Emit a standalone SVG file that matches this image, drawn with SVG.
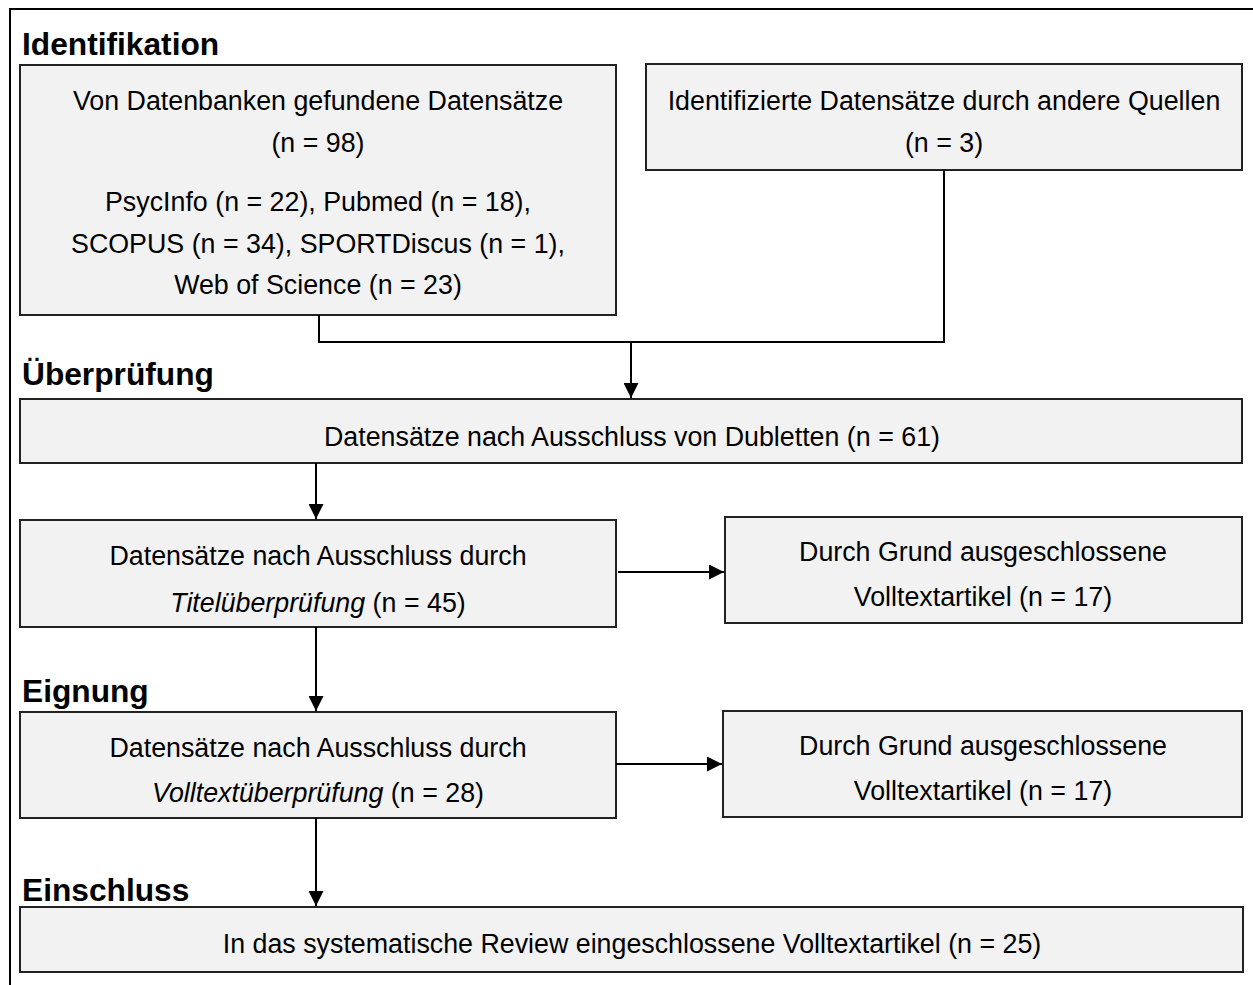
<svg xmlns="http://www.w3.org/2000/svg" width="1253" height="985" viewBox="0 0 1253 985">
<defs>
<style>
.box{fill:#f2f2f2;stroke:#222;stroke-width:2}
.t{font-family:"Liberation Sans",Arial,sans-serif;font-size:26.8px;fill:#000;text-anchor:middle}
.h{font-family:"Liberation Sans",Arial,sans-serif;font-size:31.7px;font-weight:bold;fill:#000}
.c{fill:none;stroke:#000;stroke-width:2}
.i{font-style:italic}
</style>
<marker id="ah" viewBox="0 0 10 10" refX="10" refY="5" markerWidth="15" markerHeight="15" markerUnits="userSpaceOnUse" orient="auto">
<path d="M0,0 L10,5 L0,10 z" fill="#000"/>
</marker>
</defs>
<rect width="1253" height="985" fill="#fff"/>
<g id="frame" class="c"><path d="M10,985 V9 H1253"/></g>
<g id="headings">
<text class="h" x="22" y="55">Identifikation</text>
<text class="h" x="22" y="385">Überprüfung</text>
<text class="h" x="22" y="702">Eignung</text>
<text class="h" x="22" y="901">Einschluss</text>
</g>
<g id="n1"><rect class="box" x="20" y="65" width="596" height="250"/>
<text class="t" x="318" y="110">Von Datenbanken gefundene Datensätze</text>
<text class="t" x="318" y="152">(n = 98)</text>
<text class="t" x="318" y="211">PsycInfo (n = 22), Pubmed (n = 18),</text>
<text class="t" x="318" y="253">SCOPUS (n = 34), SPORTDiscus (n = 1),</text>
<text class="t" x="318" y="294">Web of Science (n = 23)</text></g>
<g id="n2"><rect class="box" x="646" y="64" width="596" height="106"/>
<text class="t" x="944" y="110">Identifizierte Datensätze durch andere Quellen</text>
<text class="t" x="944" y="152">(n = 3)</text></g>
<g id="n3"><rect class="box" x="20" y="399" width="1222" height="64"/>
<text class="t" x="632" y="446">Datensätze nach Ausschluss von Dubletten (n = 61)</text></g>
<g id="n4"><rect class="box" x="20" y="520" width="596" height="107"/>
<text class="t" x="318" y="565">Datensätze nach Ausschluss durch</text>
<text class="t" x="318" y="612"><tspan class="i">Titelüberprüfung</tspan> (n = 45)</text></g>
<g id="n5"><rect class="box" x="725" y="517" width="517" height="106"/>
<text class="t" x="983" y="561">Durch Grund ausgeschlossene</text>
<text class="t" x="983" y="606">Volltextartikel (n = 17)</text></g>
<g id="n6"><rect class="box" x="20" y="712" width="596" height="106"/>
<text class="t" x="318" y="757">Datensätze nach Ausschluss durch</text>
<text class="t" x="318" y="802"><tspan class="i">Volltextüberprüfung</tspan> (n = 28)</text></g>
<g id="n7"><rect class="box" x="723" y="711" width="519" height="106"/>
<text class="t" x="983" y="755">Durch Grund ausgeschlossene</text>
<text class="t" x="983" y="800">Volltextartikel (n = 17)</text></g>
<g id="n8"><rect class="box" x="20" y="907" width="1223" height="65"/>
<text class="t" x="632" y="953">In das systematische Review eingeschlossene Volltextartikel (n = 25)</text></g>
<g id="connectors" class="c">
<path d="M319,315 V342 H944 V170"/>
<path d="M631,342 V398" marker-end="url(#ah)"/>
<path d="M316,463 V519" marker-end="url(#ah)"/>
<path d="M618,572 H724" marker-end="url(#ah)"/>
<path d="M316,627 V711" marker-end="url(#ah)"/>
<path d="M616,764 H722" marker-end="url(#ah)"/>
<path d="M316,818 V906" marker-end="url(#ah)"/>
</g>
</svg>
